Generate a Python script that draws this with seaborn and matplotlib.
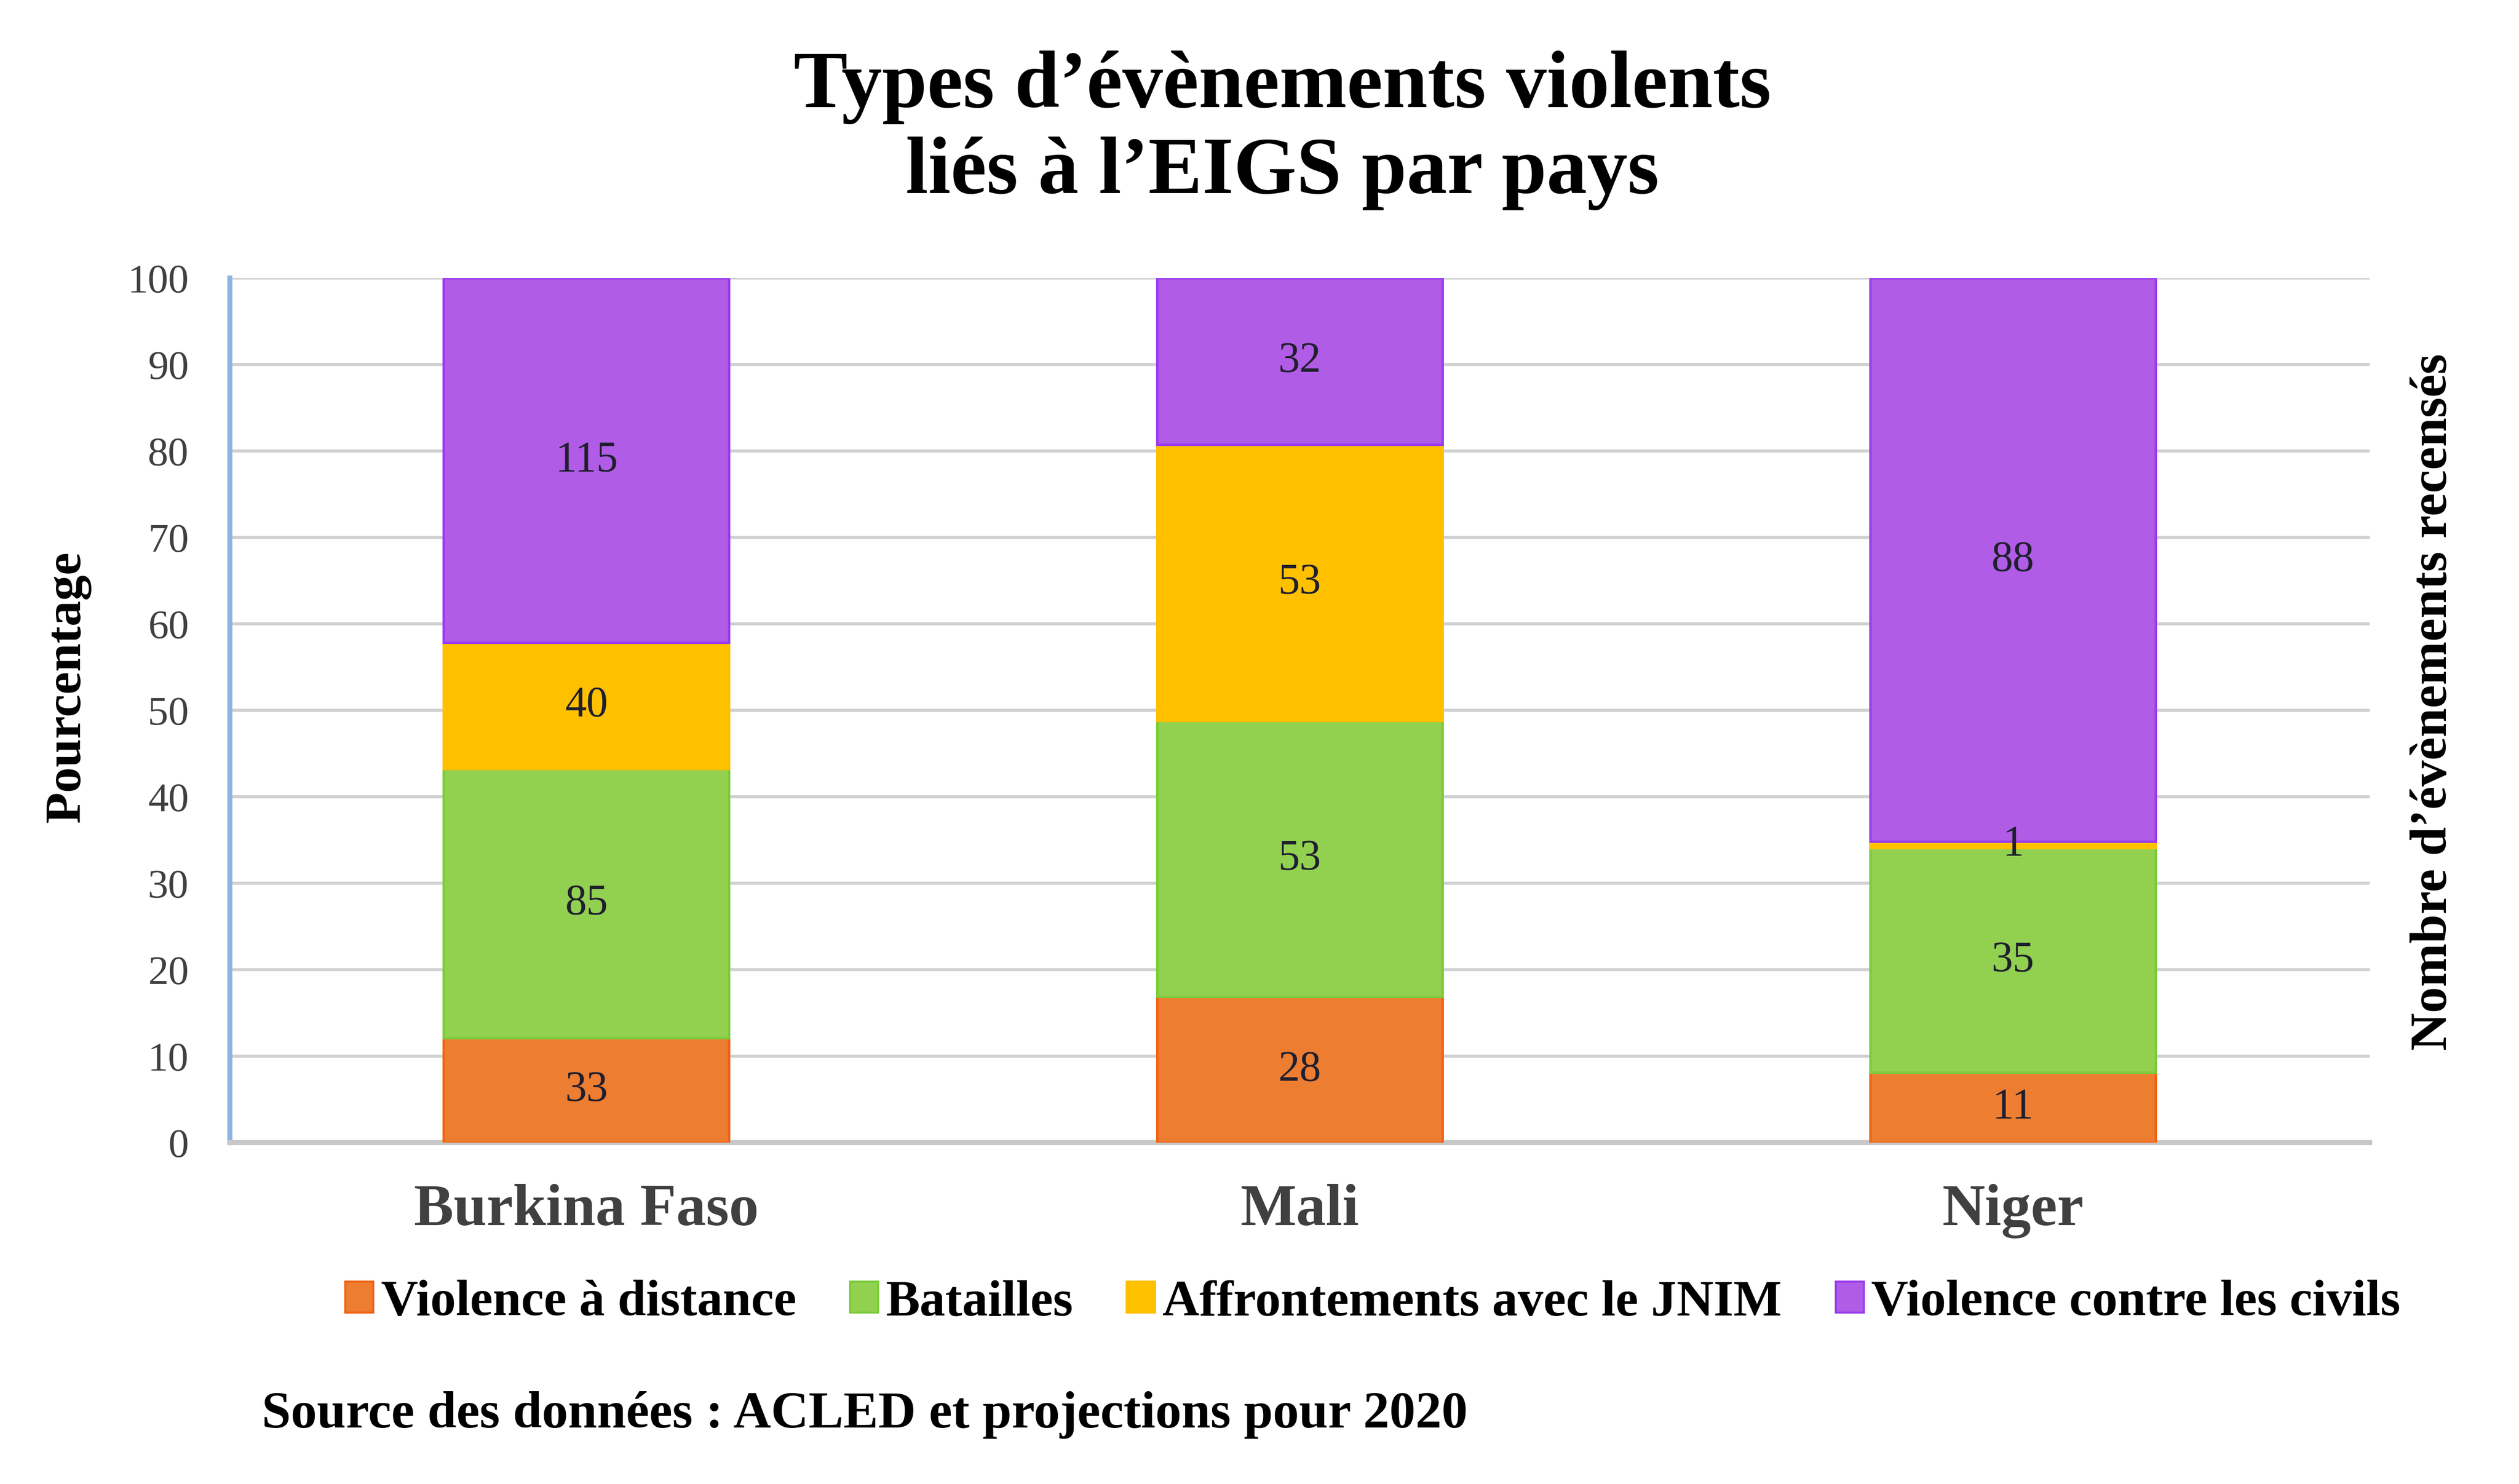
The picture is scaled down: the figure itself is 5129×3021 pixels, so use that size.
import seaborn as sns
import pandas as pd
import matplotlib.pyplot as plt
import numpy as np
from matplotlib.patches import Patch

# --- Types d'évènements violents liés à l'EIGS (100 % stacked bars) ---

pays = ['Burkina Faso', 'Mali', 'Niger']
types = ['Violence à distance', 'Batailles', 'Affrontements avec le JNIM', 'Violence contre les civils']
violence_distance = [33, 28, 11]
batailles = [85, 53, 35]
affrontements_jnim = [40, 53, 1]
violence_civils = [115, 32, 88]

couleurs = ['#ED7D31', '#92D050', '#FFC000', '#B05CE6']
bords = ['#F06414', '#7CCB3C', '#FFC000', '#9A3CF0']

counts = pd.DataFrame({'pays': pays,
                       types[0]: violence_distance,
                       types[1]: batailles,
                       types[2]: affrontements_jnim,
                       types[3]: violence_civils}).set_index('pays')
pct = counts.div(counts.sum(axis=1), axis=0) * 100

sns.set_style('white')
plt.rcParams['font.family'] = ['Liberation Serif', 'DejaVu Serif']

fig = plt.figure(figsize=(5129 / 300, 3021 / 300), dpi=300)
ax = fig.add_axes([0.0912, 0.230, 0.8495, 0.5826])

bottom = np.zeros(len(pays))
labels = []
for t, c, e in zip(types, couleurs, bords):
    df = pd.DataFrame({'pays': pays, 'pct': pct[t].values})
    sns.barplot(data=df, x='pays', y='pct', color=c, saturation=1, width=0.4,
                bottom=bottom, edgecolor=e, linewidth=1.2, ax=ax, zorder=3)
    cont = ax.containers[-1]
    labels += ax.bar_label(cont, labels=[str(v) for v in counts[t].values], label_type='center',
                           fontsize=21, color='#1F1F2E')
    bottom = bottom + pct[t].values
for txt in labels:
    txt.set_zorder(10)

ax.set_ylim(0, 100)
ax.set_xlim(-0.5, 2.5)
ax.set_yticks(range(0, 101, 10))
ax.yaxis.grid(True, color='#D0D0D0', linewidth=1.5, zorder=0)
ax.set_axisbelow(True)
ax.tick_params(axis='y', length=0, pad=20, labelsize=20, labelcolor='#404040')
ax.tick_params(axis='x', length=0, pad=20, labelsize=29, labelcolor='#404040')
for lab in ax.get_xticklabels():
    lab.set_fontweight('bold')
ax.set_xlabel('')
ax.set_ylabel('')
for s in ['top', 'right']:
    ax.spines[s].set_visible(False)
ax.spines['left'].set_color('#8EB4E3')
ax.spines['left'].set_linewidth(2.5)
ax.spines['bottom'].set_color('#C8C8C8')
ax.spines['bottom'].set_linewidth(2.5)

fig.text(0.509, 0.912, 'Types d’évènements violents\nliés à l’EIGS par pays', ha='center', va='center',
         fontsize=39.5, fontweight='bold', linespacing=1.22, color='black')
fig.text(0.027, 0.537, 'Pourcentage', rotation=90, ha='center', va='center',
         fontsize=25, fontweight='bold', color='black')
fig.text(0.966, 0.527, 'Nombre d’évènements recensés', rotation=90, ha='center', va='center',
         fontsize=25.5, fontweight='bold', color='black')

handles = [Patch(facecolor=c, edgecolor=e) for c, e in zip(couleurs, bords)]
leg = fig.legend(handles, types, loc='center', bbox_to_anchor=(0.545, 0.122), ncol=4, frameon=False,
                 prop={'weight': 'bold', 'size': 25}, handlelength=0.55, handleheight=0.55,
                 handletextpad=0.15, columnspacing=1.05)
for txt in leg.get_texts():
    txt.set_color('black')

fig.text(0.104, 0.038, 'Source des données : ACLED et projections pour 2020', ha='left', va='baseline',
         fontsize=25.5, fontweight='bold', color='black')

plt.savefig('out.png', dpi=300)
